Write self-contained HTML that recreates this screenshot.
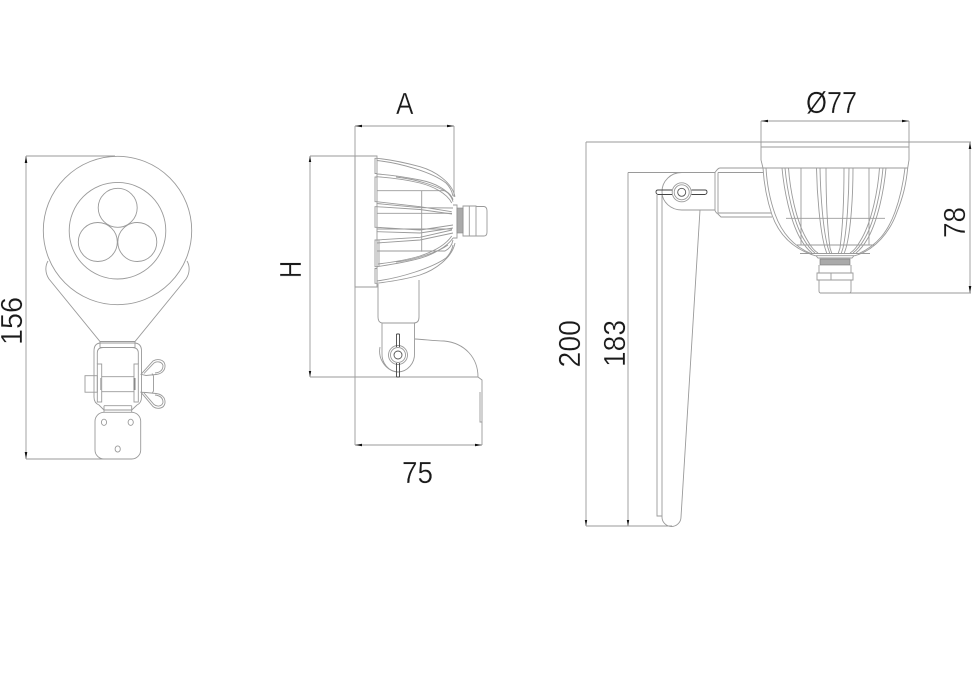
<!DOCTYPE html>
<html>
<head>
<meta charset="utf-8">
<style>
html,body{margin:0;padding:0;background:#fff;width:972px;height:681px;overflow:hidden}
svg{display:block}
text{font-family:"Liberation Sans",sans-serif;font-size:31px;fill:#1a1a1a;stroke:#fff;stroke-width:.35px}
.l{fill:none;stroke:#9a9a9a;stroke-width:.9}
.a{fill:#111;stroke:none}
</style>
</head>
<body>
<svg width="972" height="681" viewBox="0 0 972 681" xmlns="http://www.w3.org/2000/svg">
<rect width="972" height="681" fill="#fff"/>

<!-- Dimension lines -->
<g class="l">
<path d="M26 156V459M26 156H115M26 459H108"/>
<path d="M355 126H454M355 126V445M454 126V197"/>
<path d="M310 156V377M310 156H377M310 377H478"/>
<path d="M355 445H482M482 422V445"/>
<path d="M761 121H909M761 121V143M909 121V143"/>
<path d="M586 142H945M586 142V526M586 526H672"/>
<path d="M628 172.500H715M628 172.500V526"/>
<path d="M970 142V293M945 142H971M820 293H971"/>
</g>
<g class="a">
<path d="M26 156l-1.300 7h2.600zM26 459l-1.300-7h2.600z"/>
<path d="M355 126l7-1.300v2.600zM454 126l-7-1.300v2.600z"/>
<path d="M310 156l-1.200 6h2.400zM310 377l-1.200-6h2.400z"/>
<path d="M355 445l7-1.300v2.600zM482 445l-7-1.300v2.600z"/>
<path d="M761 121l7-1.300v2.600zM909 121l-7-1.300v2.600z"/>
<path d="M586 526l-1.200-6h2.400zM628 526l-1.200-6h2.400z"/>
<path d="M970 142l-1.300 7h2.600zM970 293l-1.300-7h2.600z"/>
</g>

<!-- Left view -->
<g class="l">
<circle cx="117.500" cy="230.500" r="74.200"/>
<circle cx="117.500" cy="230.700" r="48.300"/>
<circle cx="117.700" cy="207.800" r="19.500"/>
<circle cx="97.800" cy="242" r="19.500"/>
<circle cx="137.300" cy="242" r="19.500"/>
<path d="M48 261C45 266 45 273 49 279L100 341.500H135L186 279C190 273 190 266 187 261"/>
<path d="M100 341.500V347.500M135 341.500V347.500M100 347.500H135"/>
<path d="M101 343H134Q141.500 343 141.500 351V397Q141.500 403 137 405L131.700 410H104L99 405Q94 403 94 397V351Q94 343 101 343Z"/>
<path d="M103 347.500H132Q138.300 347.500 138.300 353V364M103 347.500Q97.300 347.500 97.300 353V364"/>
<rect x="97.300" y="364" width="4.400" height="38"/>
<rect x="134" y="364" width="4.300" height="38"/>
<rect x="85" y="375.700" width="12.300" height="16.500"/>
<path d="M101.700 376.700H134M101.700 391.700H134"/>
<path d="M104 405.700H131.700M104 405.700V412.300M131.700 405.700V412.300"/>
<rect x="95" y="412.300" width="45.700" height="46.700" rx="9"/>
<ellipse cx="104" cy="422.300" rx="2.600" ry="3.100"/>
<ellipse cx="130.700" cy="422.300" rx="2.600" ry="3.100"/>
<ellipse cx="117.700" cy="449" rx="2.600" ry="3.100"/>
<path d="M141 374.300L153 361C157 358.500 164 359 165 365C165.500 371 161 374 156 374.500L146 375.500Z"/>
<path d="M144 373.500L154 363C157 361 162 361.500 163 365.500C163 370 160 372.500 155 373"/>
<path d="M141 392.300L153 406.500C157 409.500 164 409 165 403C165.500 397 161 394 156 393.500L146 392.500Z"/>
<path d="M144 393L154 404.500C157 407 162 406.500 163 402.500C163 398 160 395.500 155 395"/>
<path d="M152 373.500L153.500 376V391L152 393.500"/>
</g>
<rect x="133.500" y="378" width="2" height="12" fill="#888"/>
<rect x="100" y="378" width="1.500" height="12" fill="#bbb"/>

<!-- Side view -->
<g class="l">
<path d="M355 156H377V287H355Z"/>
<path d="M376.700 158.300C395 160 410 164 420 166.700C435 171 452 182 455 196.700"/>
<path d="M376.700 160.500C400 163 432 172 446 183C450 187 452 191 453 196"/>
<path d="M376.700 283.300C395 281 410 278 420 275C435 270 452 258 455 243"/>
<path d="M376.700 281C400 278 432 268 446 258C450 254 452 250 453 245"/>
<path d="M376.700 174C395 175 410 178 420 180C435 183 450 190 453 201.700"/>
<path d="M376.700 176.700C395 178 410 180.500 420 183C432 186 447 193 451.700 203"/>
<path d="M396 177C415 179 438 186 448 193C451 196 452 198 453 199"/>
<path d="M377 190.700H445C449 193 452 196 453 200"/>
<path d="M376.700 201.700L420 206.700L451.700 211.700M376.700 206.700L420 209.500L452 214M376.700 203.500L420 207.700L453 208"/>
<path d="M377 213.300H452"/>
<path d="M376.700 227.300L420 230L453 225M376.700 231.700L420 233L453 228"/>
<path d="M377 229H452"/>
<path d="M376.700 240L420 237.300L452 230M376.700 243L420 240L453 233"/>
<path d="M376.700 266.700C395 264 410 261 420 258.300C432 255 447 247 453 238M378 264C395 262 410 259 420 256C432 252 445 246 451.700 236"/>
<path d="M396 262C415 260 438 252 448 245"/>
<path d="M377 251H445C449 249 452 245 453 240"/>
<path d="M421.700 190.700V251.700"/>
<path d="M377 158.300H375V173.500H377M377 177H375V201.700H377M377 206.700H375V227.300H377M378 240H375V266.700H378M377 268.500H375V283.300H377"/>
<path d="M379 240V266"/>
<path d="M453 205H457V238H453"/>
<path d="M463 206H476V236H463Z"/>
<path d="M476 206.500H484Q487 207 487 211V232Q487 236 484 236H476M469.300 206V236"/>
</g>
<rect x="457" y="208" width="6" height="25" fill="#aaa" stroke="#888" stroke-width=".6"/>
<g class="l">
<path d="M378 284V317Q378 323 383 323H414Q419 323 419 317V280"/>
<path d="M382 323V353A16.500 18 0 0 0 398 372A17 18 0 0 0 414.500 353V323"/>
<path d="M380 347A20 21 0 0 0 398 372"/>
<path d="M415 339C425 339.500 435 341 444 341C465 343 478 358 478 377L482 380V422H480V392"/>
<circle cx="398" cy="355" r="9.500"/>
<circle cx="398" cy="355" r="7.500"/>
</g>
<circle cx="398" cy="355" r="4" fill="none" stroke="#555" stroke-width=".9"/>
<path d="M396.500 334V347M399.500 334V347M396.500 334H399.500M396.500 363V377M399.500 363V377M396.500 377H399.500" fill="none" stroke="#444" stroke-width=".9"/>

<!-- Right view -->
<g class="l">
<path d="M761 142V160L763 168H907.700L909 160V142"/>
<path d="M761 147H909"/>
<path d="M763 168C764 185 767 200 772 215C778 232 790 248 815 255.700H855C875 250 890 232 897 212C903 197 906 185 907.700 168"/>
<path d="M766 168C767 185 770 200 775 214C781 231 792 246 812 254"/>
<path d="M905 168C903 185 900 198 895 212C888 231 878 245 858 254"/>
<path d="M782 168C784 190 790 220 800 238C804 245 808 250 812 253"/>
<path d="M785 168C787 190 793 220 803 238C807 245 811 250 815 253"/>
<path d="M788.500 168C790 190 796 220 806 238C810 245 813 250 818 253"/>
<path d="M801 168V245"/>
<path d="M816.500 168C817 195 820 230 825 248L827 254M820 168C820.500 195 823 230 828 248L830 254M826 168C826 195 827 225 830 248L832 254"/>
<path d="M844 168C844 195 843 225 840 248L838 254M849 168C849 195 847 230 843 248L841 254M853 168C853 195 851 230 846 248L844 254"/>
<path d="M869 168V245"/>
<path d="M886 168C884 190 878 220 868 238C864 245 860 250 856 253"/>
<path d="M883 168C881 190 875 220 865 238C861 245 857 250 853 253"/>
<path d="M879.500 168C878 190 872 220 862 238C858 245 855 250 850 253"/>
<path d="M786 218.300H885M797 245H875"/>
<path d="M800 253.500H870"/>
<path d="M816 255.700L818 258H852L854 255.700"/>
<path d="M819 265V273M851 265V273"/>
<path d="M817 273H853V280H817ZM819 280V291Q819 293 821 293H849Q851 293 851 291V280M831 273V280"/>
<path d="M720 168H763M720 168Q718 168 715 172.500V210Q715 212 718 214L721 217H772M718 172.500V213M718 172.500H763M718 213H771"/>
<path d="M657 195V516H662M662 195V517A9.500 9.500 0 0 0 681 517L700 210"/>
<path d="M715 172.500H682A19.800 19 0 0 0 662 192A19.800 18 0 0 0 682 210H715"/>
<circle cx="681.700" cy="192.300" r="9.500"/>
<circle cx="681.700" cy="192.300" r="7.500"/>
</g>
<circle cx="681.700" cy="192.300" r="4" fill="none" stroke="#555" stroke-width=".9"/>
<path d="M672 190H658Q656 190 656 192T658 194.500H672M691.500 190H705Q707 190 707 192T705 194.500H691.500" fill="none" stroke="#444" stroke-width=".9"/>
<rect x="820" y="259" width="30" height="6" fill="#aaa" stroke="#777" stroke-width=".6"/>

<!-- Labels -->
<text transform="translate(22 345) rotate(-90)" textLength="48" lengthAdjust="spacingAndGlyphs">156</text>
<text x="396" y="114" textLength="17.500" lengthAdjust="spacingAndGlyphs">A</text>
<text transform="translate(301 278) rotate(-90)" textLength="17" lengthAdjust="spacingAndGlyphs">H</text>
<text x="402" y="483" textLength="31" lengthAdjust="spacingAndGlyphs">75</text>
<text x="806" y="113" textLength="51" lengthAdjust="spacingAndGlyphs">Ø77</text>
<text transform="translate(965 238) rotate(-90)" textLength="31" lengthAdjust="spacingAndGlyphs">78</text>
<text transform="translate(580 367.500) rotate(-90)" textLength="47.500" lengthAdjust="spacingAndGlyphs">200</text>
<text transform="translate(625 367) rotate(-90)" textLength="47" lengthAdjust="spacingAndGlyphs">183</text>
</svg>
</body>
</html>
